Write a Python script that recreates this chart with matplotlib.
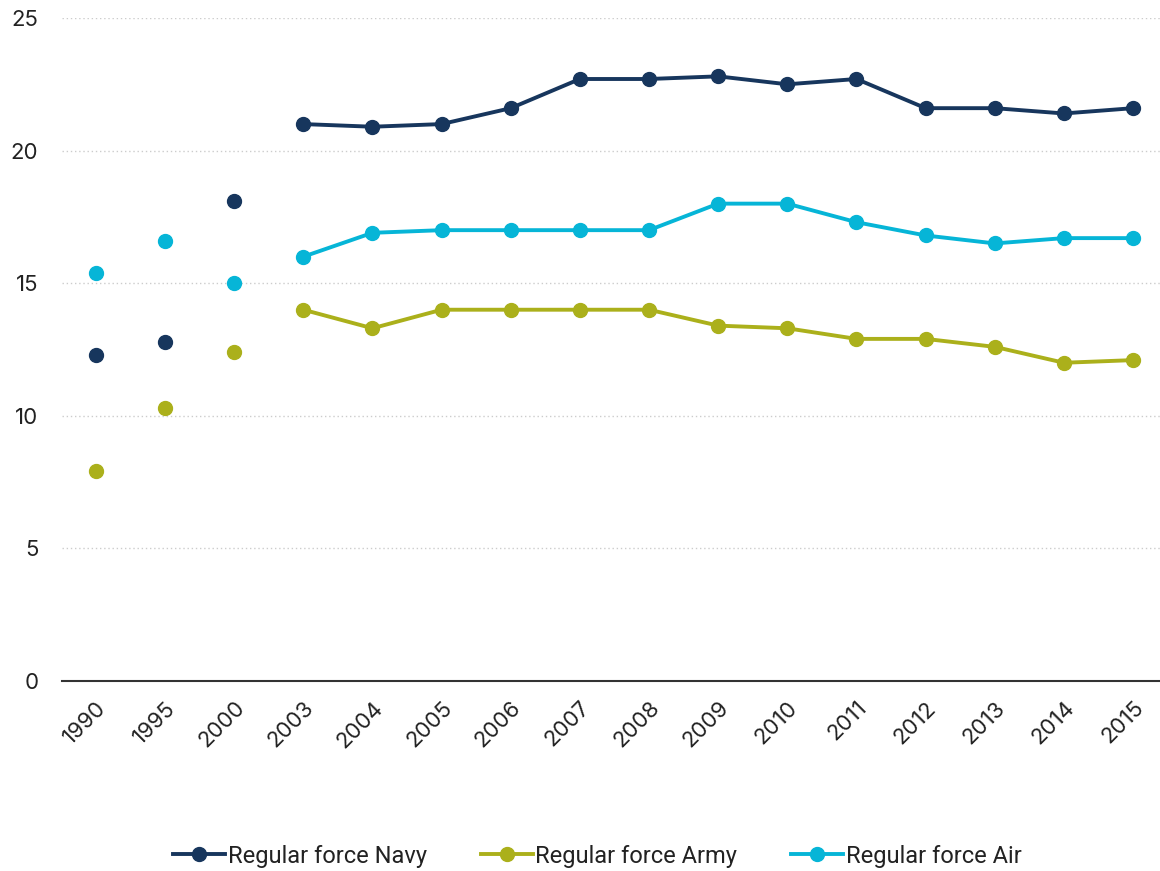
import numpy as np
import matplotlib.pyplot as plt

# data
years = ["1990", "1995", "2000", "2003", "2004", "2005", "2006", "2007",
         "2008", "2009", "2010", "2011", "2012", "2013", "2014", "2015"]
navy = [12.3, 12.8, 18.1, 21.0, 20.9, 21.0, 21.6, 22.7,
        22.7, 22.8, 22.5, 22.7, 21.6, 21.6, 21.4, 21.6]
army = [7.9, 10.3, 12.4, 14.0, 13.3, 14.0, 14.0, 14.0,
        14.0, 13.4, 13.3, 12.9, 12.9, 12.6, 12.0, 12.1]
air = [15.4, 16.6, 15.0, 16.0, 16.9, 17.0, 17.0, 17.0,
       17.0, 18.0, 18.0, 17.3, 16.8, 16.5, 16.7, 16.7]
series_names = ["Regular force Navy", "Regular force Army", "Regular force Air"]
series_colors = ["#17365d", "#abb01b", "#06b5d7"]
first_annual = 3  # yearly series starts in 2003

plt.rcParams['font.family'] = ['Inter', 'DejaVu Sans']

fig = plt.figure(figsize=(11.6, 8.71), dpi=100)
ax = fig.add_axes([62 / 1160, 1 - 681 / 871, (1160 - 62) / 1160, (681 - 18) / 871])

x = np.arange(len(years))
handles = []
for vals, name, col in zip([navy, army, air], series_names, series_colors):
    vals = np.array(vals)
    # early survey years shown as isolated points
    ax.plot(x[:first_annual], vals[:first_annual], linestyle="none", marker="o",
            markersize=10, color=col, zorder=3)
    ln, = ax.plot(x[first_annual:], vals[first_annual:], marker="o", markersize=10,
                  linewidth=2.8, color=col, zorder=3, solid_joinstyle="round")
    handles.append(ln)

ax.set_xlim(-0.49, 15.39)
ax.set_ylim(0, 25)
ax.set_yticks([0, 5, 10, 15, 20, 25])
ax.set_xticks(x)
ax.set_xticklabels(years, rotation=45, ha="right", rotation_mode="anchor")
ax.tick_params(axis="both", length=0, labelsize=16, colors="#222222")
ax.tick_params(axis="x", pad=12)
ax.tick_params(axis="y", pad=17)

for s in ["top", "right", "left"]:
    ax.spines[s].set_visible(False)
ax.spines["bottom"].set_color("#333333")
ax.spines["bottom"].set_linewidth(1.5)

ax.yaxis.grid(True, linestyle=(0, (1, 2)), color="#cccccc", linewidth=1)
ax.set_axisbelow(True)

fig.legend(handles, series_names, loc="center", bbox_to_anchor=(0.515, 1 - 856 / 871),
           ncol=3, frameon=False, handlelength=2.2, columnspacing=2.3,
           handletextpad=0.1, labelcolor="#222222",
           prop={"family": ["Roboto", "DejaVu Sans"], "size": 17})

fig.savefig("out.png", dpi=100)
